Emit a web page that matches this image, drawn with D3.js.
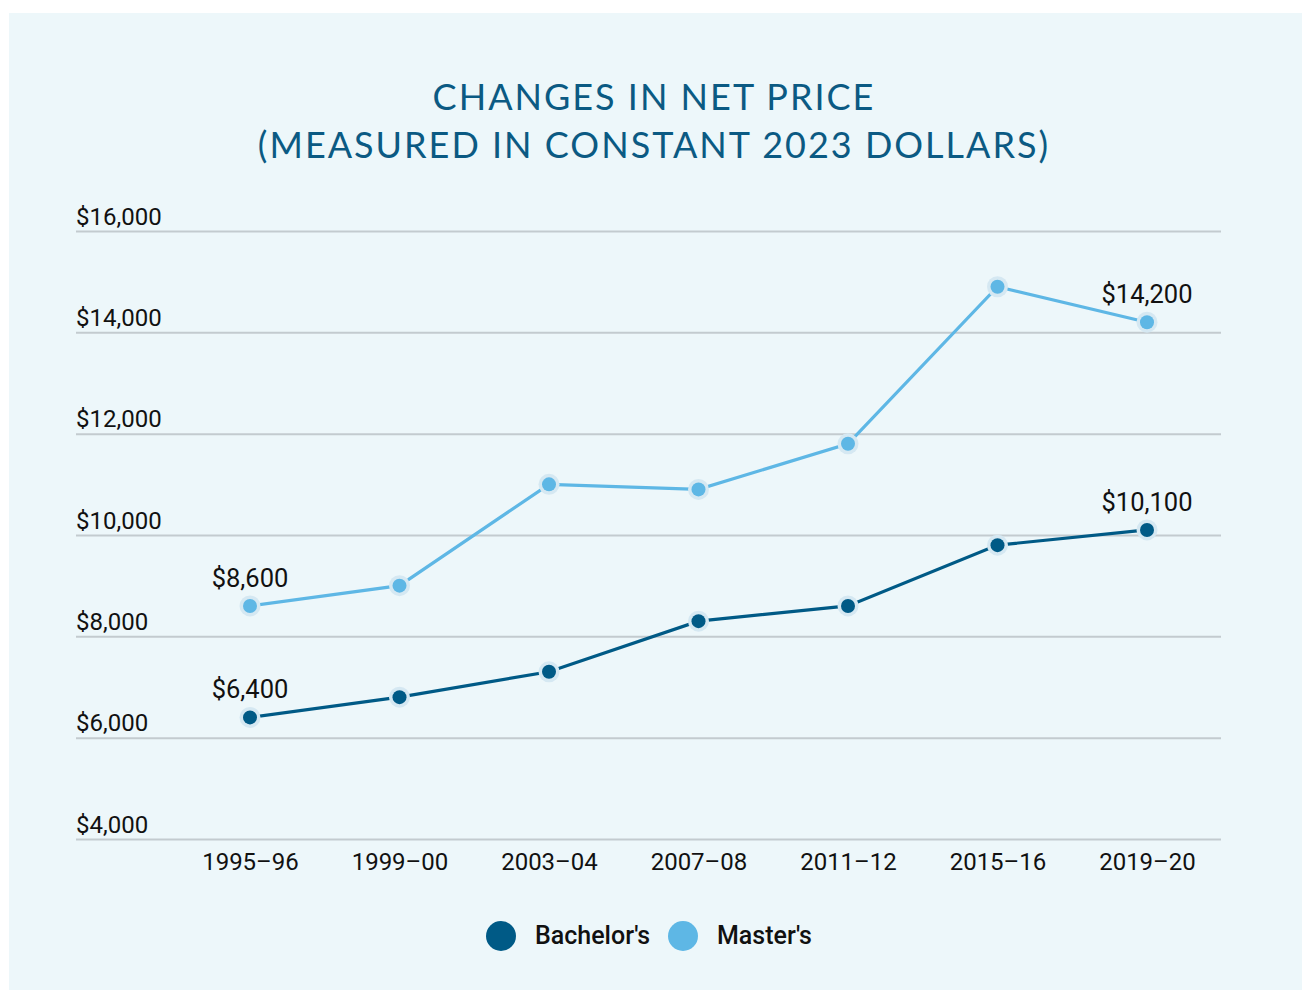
<!DOCTYPE html>
<html lang="en">
<head>
  <meta charset="utf-8">
  <title>Changes in Net Price</title>
  <script src="https://d3js.org/d3.v7.min.js" charset="utf-8"></script>
  <style type="text/css">
    html, body { margin: 0; padding: 0; background: #fff; }
    svg { display: block; }
  </style>
</head>
<body>
  <svg id="chart" width="1302" height="990" xmlns="http://www.w3.org/2000/svg"></svg>
  <script type="text/javascript">
    var years = ['1995\u201396', '1999\u201300', '2003\u201304', '2007\u201308', '2011\u201312', '2015\u201316', '2019\u201320'];
    var bachelors = [6400, 6800, 7300, 8300, 8600, 9800, 10100];
    var masters = [8600, 9000, 11000, 10900, 11800, 14900, 14200];
    var yTicks = [4000, 6000, 8000, 10000, 12000, 14000, 16000];
    var titleLines = ['CHANGES IN NET PRICE', '(MEASURED IN CONSTANT 2023 DOLLARS)'];

    var darkBlue = '#005a86';
    var lightBlue = '#5eb7e5';
    var halo = '#d5e8f2';

    var svg = d3.select('#chart');

    // panel
    svg.append('rect')
      .attr('x', 9).attr('y', 13)
      .attr('width', 1293).attr('height', 977)
      .style('fill', '#edf7fa');

    // title
    svg.append('text')
      .attr('x', 654)
      .attr('text-anchor', 'middle')
      .style('font-family', 'Lato, "Open Sans", sans-serif')
      .style('font-size', '36px')
      .style('letter-spacing', '2px')
      .style('fill', '#0b5a83')
      .selectAll('tspan')
      .data(titleLines)
      .enter().append('tspan')
      .attr('x', 654)
      .attr('y', function(d, i) { return 110 + i * 48; })
      .text(function(d) { return d; });

    var x = d3.scalePoint().domain(years).range([250, 1147]);
    var y = d3.scaleLinear().domain([4000, 16000]).range([839, 231]);

    // gridlines + y labels
    var yAxis = d3.axisLeft(y)
      .tickValues(yTicks)
      .tickSize(-(1221 - 76))
      .tickFormat(d3.format('$,'));

    var gy = svg.append('g')
      .attr('transform', 'translate(76,0)')
      .call(yAxis);
    gy.select('.domain').remove();
    gy.selectAll('.tick line')
      .style('stroke', '#c3cbcf')
      .style('stroke-width', 2);
    gy.selectAll('.tick text')
      .attr('x', 0)
      .attr('dy', '-7px')
      .attr('text-anchor', 'start')
      .style('font-family', 'Roboto, sans-serif')
      .style('font-size', '24px')
      .style('fill', '#111');

    // x labels
    var xAxis = d3.axisBottom(x).tickSize(0).tickPadding(0);
    var gx = svg.append('g')
      .attr('transform', 'translate(0,870)')
      .call(xAxis);
    gx.select('.domain').remove();
    gx.selectAll('.tick text')
      .attr('dy', 0)
      .style('font-family', 'Roboto, sans-serif')
      .style('font-size', '24px')
      .style('fill', '#111');

    function drawSeries(values, color) {
      var pts = values.map(function(v, i) { return { year: years[i], value: v }; });
      var line = d3.line()
        .x(function(d) { return x(d.year); })
        .y(function(d) { return y(d.value); });
      svg.append('path')
        .datum(pts)
        .attr('d', line)
        .style('fill', 'none')
        .style('stroke', color)
        .style('stroke-width', 3.2);
      var g = svg.append('g');
      g.selectAll('circle.halo')
        .data(pts).enter().append('circle')
        .attr('class', 'halo')
        .attr('cx', function(d) { return x(d.year); })
        .attr('cy', function(d) { return y(d.value); })
        .attr('r', 10.5)
        .style('fill', halo);
      g.selectAll('circle.dot')
        .data(pts).enter().append('circle')
        .attr('class', 'dot')
        .attr('cx', function(d) { return x(d.year); })
        .attr('cy', function(d) { return y(d.value); })
        .attr('r', 7)
        .style('fill', color);
      // first and last value labels
      var ends = [pts[0], pts[pts.length - 1]];
      g.selectAll('text')
        .data(ends).enter().append('text')
        .attr('x', function(d) { return x(d.year); })
        .attr('y', function(d) { return y(d.value) - 19; })
        .attr('text-anchor', 'middle')
        .style('font-family', 'Roboto, sans-serif')
        .style('font-size', '25.5px')
        .style('fill', '#111')
        .text(function(d) { return d3.format('$,')(d.value); });
    }

    drawSeries(bachelors, darkBlue);
    drawSeries(masters, lightBlue);

    // legend
    var legendItems = [
      { name: "Bachelor's", color: darkBlue, cx: 501 },
      { name: "Master's", color: lightBlue, cx: 683 }
    ];
    var lg = svg.append('g').selectAll('g')
      .data(legendItems).enter().append('g');
    lg.append('circle')
      .attr('cx', function(d) { return d.cx; })
      .attr('cy', 936)
      .attr('r', 15)
      .style('fill', function(d) { return d.color; });
    lg.append('text')
      .attr('x', function(d) { return d.cx + 34; })
      .attr('y', 944)
      .style('font-family', 'Roboto, sans-serif')
      .style('font-weight', 500)
      .style('font-size', '25px')
      .style('fill', '#111')
      .text(function(d) { return d.name; });
  </script>
</body>
</html>
